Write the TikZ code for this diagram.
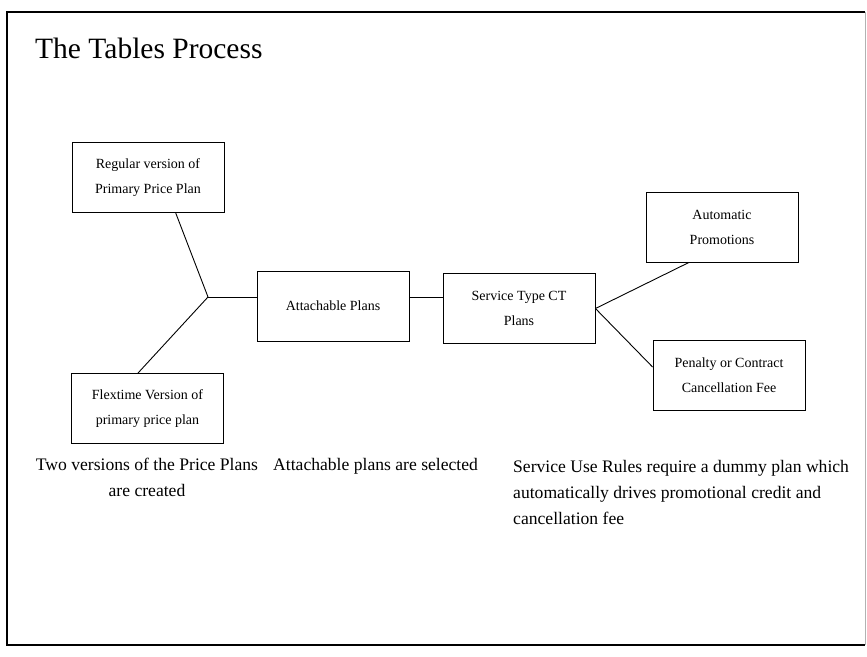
\documentclass[tikz,border=0pt]{standalone}
\usepackage{fontspec}
\setmainfont{Liberation Serif}

\begin{document}
\begin{tikzpicture}[x=1pt,y=-1pt,
        planbox/.style={draw,line width=0.9pt,minimum width=152pt,minimum height=70pt,
            inner sep=2pt,align=center,font=\fontsize{14}{25}\selectfont},
        caption/.style={inner sep=0pt,font=\fontsize{17.6}{26}\selectfont}]

        \useasboundingbox (0,0) rectangle (867,656);

        % Draw frame
        \draw[line width=1.3pt] (865,12) -- (7,12) -- (7,645) -- (865,645);
        \draw[gray!60,line width=0.6pt] (865,12) -- (865,645);

        % Draw title
        \node[anchor=base west,inner sep=0pt,font=\fontsize{29.5}{34}\selectfont] (title)
            at (35,58) {The Tables Process};

        % Draw plan boxes
        \foreach \name/\x/\y/\txt in {
            regular/148/177.5/{Regular version of\\Primary Price Plan},
            flextime/147.5/408.5/{Flextime Version of\\primary price plan},
            attach/333/306/{Attachable Plans},
            service/519/308.5/{Service Type CT\\Plans},
            promo/722/227/{Automatic\\Promotions},
            penalty/729/375/{Penalty or Contract\\Cancellation Fee}} {
            \node[planbox] (\name) at (\x,\y) {\txt};
        }
        \coordinate (fork) at (208,297);

        % Draw edges
        \def \drawedge#1#2{\draw[line width=0.9pt] (#1) -- (#2);}
        \drawedge{regular.-52}{fork}
        \drawedge{fork}{flextime.105}
        \drawedge{fork}{fork -| attach.west}
        \drawedge{attach.east |- fork}{service.west |- fork}
        \drawedge{service.east}{promo.-133}
        \drawedge{service.east}{penalty.174}

        % Draw captions
        \node[caption,anchor=north,align=center] (cap-price) at (147,458)
            {Two versions of the Price Plans\\are created};
        \node[caption,anchor=north west] (cap-attach) at (273,458)
            {Attachable plans are selected};
        \node[caption,anchor=north west,align=left] (cap-rules) at (513,460)
            {Service Use Rules require a dummy plan which\\automatically drives promotional credit and\\cancellation fee};

    \end{tikzpicture}
\end{document}
